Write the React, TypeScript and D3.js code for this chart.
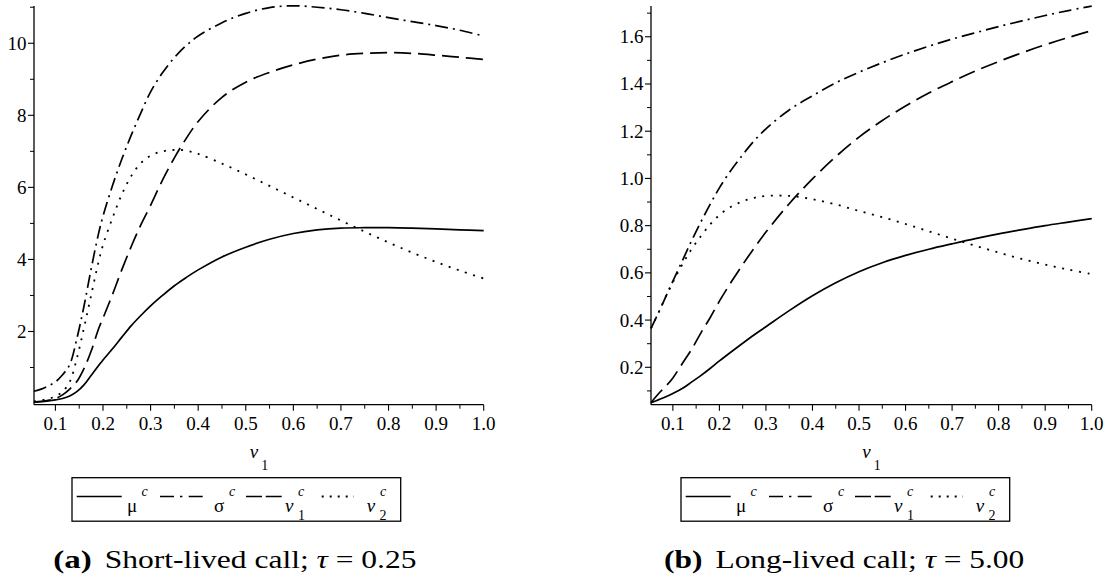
import React from 'react';
import * as d3 from 'd3';

// ---------- data: panel (a) short-lived call, tau = 0.25 ----------
const xA = [0.055, 0.07, 0.085, 0.1, 0.115, 0.13, 0.145, 0.16, 0.175, 0.19, 0.2, 0.22, 0.24, 0.26, 0.28, 0.3, 0.325, 0.35, 0.375, 0.4, 0.45, 0.5, 0.55, 0.6, 0.65, 0.7, 0.75, 0.8, 0.85, 0.9, 0.95, 1.0];
const muA = [0.04, 0.05, 0.07, 0.1, 0.14, 0.21, 0.33, 0.52, 0.78, 1.04, 1.21, 1.52, 1.85, 2.17, 2.45, 2.71, 3.0, 3.27, 3.5, 3.71, 4.07, 4.34, 4.56, 4.72, 4.82, 4.87, 4.88, 4.88, 4.87, 4.85, 4.82, 4.8];
const sigmaA = [0.34, 0.4, 0.49, 0.6, 0.8, 1.08, 1.8, 2.7, 3.73, 4.68, 5.2, 6.05, 6.8, 7.47, 8.08, 8.65, 9.18, 9.6, 9.94, 10.2, 10.57, 10.83, 10.99, 11.04, 11.0, 10.93, 10.83, 10.71, 10.6, 10.49, 10.36, 10.2];
const v1A = [0.04, 0.06, 0.09, 0.14, 0.24, 0.4, 0.61, 0.97, 1.45, 2.05, 2.37, 3.03, 3.73, 4.38, 4.97, 5.5, 6.2, 6.82, 7.36, 7.83, 8.5, 8.92, 9.19, 9.4, 9.56, 9.67, 9.72, 9.74, 9.72, 9.67, 9.61, 9.55];
const v2A = [0.06, 0.09, 0.13, 0.2, 0.33, 0.6, 1.25, 2.1, 3.0, 3.9, 4.4, 5.15, 5.82, 6.33, 6.68, 6.88, 7.0, 7.04, 7.02, 6.93, 6.66, 6.36, 6.04, 5.72, 5.4, 5.08, 4.77, 4.47, 4.19, 3.93, 3.69, 3.47];

// ---------- data: panel (b) long-lived call, tau = 5.00 ----------
const xB = [0.053, 0.07, 0.085, 0.1, 0.12, 0.14, 0.16, 0.18, 0.2, 0.225, 0.25, 0.275, 0.3, 0.35, 0.4, 0.45, 0.5, 0.55, 0.6, 0.65, 0.7, 0.75, 0.8, 0.85, 0.9, 0.95, 1.0];
const muB = [0.05, 0.063, 0.075, 0.089, 0.11, 0.137, 0.165, 0.195, 0.227, 0.265, 0.302, 0.338, 0.372, 0.44, 0.503, 0.558, 0.605, 0.643, 0.674, 0.7, 0.723, 0.745, 0.765, 0.783, 0.8, 0.815, 0.83];
const sigmaB = [0.365, 0.435, 0.5, 0.565, 0.65, 0.735, 0.815, 0.89, 0.96, 1.035, 1.1, 1.16, 1.21, 1.29, 1.35, 1.405, 1.45, 1.49, 1.527, 1.56, 1.59, 1.617, 1.643, 1.667, 1.69, 1.711, 1.73];
const v1B = [0.05, 0.09, 0.12, 0.155, 0.215, 0.275, 0.345, 0.41, 0.48, 0.56, 0.635, 0.706, 0.773, 0.893, 0.998, 1.092, 1.175, 1.245, 1.307, 1.362, 1.41, 1.455, 1.495, 1.532, 1.566, 1.597, 1.626];
const v2B = [0.365, 0.435, 0.5, 0.56, 0.635, 0.7, 0.755, 0.805, 0.845, 0.88, 0.903, 0.918, 0.926, 0.926, 0.912, 0.89, 0.862, 0.836, 0.807, 0.776, 0.745, 0.715, 0.686, 0.659, 0.635, 0.614, 0.595];

// ---------- ticks ----------
const xMajor = [0.1, 0.2, 0.3, 0.4, 0.5, 0.6, 0.7, 0.8, 0.9, 1.0];
const xMinor = [0.15, 0.25, 0.35, 0.45, 0.55, 0.65, 0.75, 0.85, 0.95];
const yMajorA = [2, 4, 6, 8, 10];
const yMinorA = [1, 3, 5, 7, 9, 11];
const yMajorB = [0.2, 0.4, 0.6, 0.8, 1.0, 1.2, 1.4, 1.6];
const yMinorB = [0.1, 0.3, 0.5, 0.7, 0.9, 1.1, 1.3, 1.5, 1.7];

const FONT = '"Liberation Serif"';
const T = (extra: React.CSSProperties = {}): React.CSSProperties => ({ fontFamily: FONT, ...extra });

type PanelProps = {
  xs: number[];
  mu: number[];
  sigma: number[];
  v1: number[];
  v2: number[];
  xDomain: [number, number];
  yDomain: [number, number];
  left: number;
  right: number;
  top: number;
  bottom: number;
  yMajor: number[];
  yMinor: number[];
  yFmt: (v: number) => string;
  legendX: number;
  captionX: number;
  captionTag: string;
  captionText: string;
  captionValue: string;
  captionLen: number;
};

function Panel(p: PanelProps) {
  const x = d3.scaleLinear().domain(p.xDomain).range([p.left, p.right]);
  const y = d3.scaleLinear().domain(p.yDomain).range([p.bottom, p.top]);
  const mk = (vals: number[]) =>
    d3
      .line<number>()
      .x((_, i) => x(p.xs[i]))
      .y((d) => y(d))
      .curve(d3.curveCatmullRom.alpha(0.5))(vals) || '';
  const axisMid = (p.left + p.right) / 2;
  const lx = p.legendX;
  const ly = 496.5;
  return (
    <g>
      {/* curves */}
      <path d={mk(p.mu)} fill="none" stroke="#000" strokeWidth={1.7} />
      <path d={mk(p.sigma)} fill="none" stroke="#000" strokeWidth={1.7} strokeDasharray="13,5,2,5" />
      <path d={mk(p.v1)} fill="none" stroke="#000" strokeWidth={1.7} strokeDasharray="17,7" />
      <path d={mk(p.v2)} fill="none" stroke="#000" strokeWidth={1.8} strokeDasharray="2,6.6" />

      {/* axes */}
      <line x1={p.left} x2={p.left} y1={p.top} y2={p.bottom} stroke="#000" strokeWidth={1.3} />
      <line x1={p.left} x2={p.right} y1={p.bottom} y2={p.bottom} stroke="#000" strokeWidth={1.3} />
      {xMajor.map((t) => (
        <g key={'xm' + t}>
          <line x1={x(t)} x2={x(t)} y1={p.bottom} y2={p.bottom + 6} stroke="#000" strokeWidth={1.1} />
          <text x={x(t)} y={430} textAnchor="middle" style={T({ fontSize: 19 })} fill="#000">
            {t.toFixed(1)}
          </text>
        </g>
      ))}
      {xMinor.map((t) => (
        <line key={'xn' + t} x1={x(t)} x2={x(t)} y1={p.bottom} y2={p.bottom + 4} stroke="#000" strokeWidth={1} />
      ))}
      {p.yMajor.map((t) => (
        <g key={'ym' + t}>
          <line x1={p.left - 6} x2={p.left} y1={y(t)} y2={y(t)} stroke="#000" strokeWidth={1.1} />
          <text x={p.left - 7.5} y={y(t)} dy="0.34em" textAnchor="end" style={T({ fontSize: 19 })} fill="#000">
            {p.yFmt(t)}
          </text>
        </g>
      ))}
      {p.yMinor.map((t) => (
        <line key={'yn' + t} x1={p.left - 4} x2={p.left} y1={y(t)} y2={y(t)} stroke="#000" strokeWidth={1} />
      ))}

      {/* axis label v_1 */}
      <text x={axisMid - 9} y={458} style={T({ fontSize: 19, fontStyle: 'italic' })} fill="#000">
        v
      </text>
      <text x={axisMid + 2.5} y={470} style={T({ fontSize: 14 })} fill="#000">
        1
      </text>

      {/* legend */}
      <rect x={lx} y={477.7} width={328.7} height={43.5} fill="none" stroke="#000" strokeWidth={1.3} />
      <line x1={lx + 4.7} x2={lx + 49.7} y1={ly} y2={ly} stroke="#000" strokeWidth={1.7} />
      <text x={lx + 55} y={512} style={T({ fontSize: 19 })} fill="#000">μ</text>
      <text x={lx + 69.5} y={496} style={T({ fontSize: 14, fontStyle: 'italic' })} fill="#000">c</text>

      <line x1={lx + 88} x2={lx + 130.7} y1={ly} y2={ly} stroke="#000" strokeWidth={1.7} strokeDasharray="14,6,2.4,6.3,14" />
      <text x={lx + 142} y={512} style={T({ fontSize: 19 })} fill="#000">σ</text>
      <text x={lx + 157} y={496} style={T({ fontSize: 14, fontStyle: 'italic' })} fill="#000">c</text>

      <line x1={lx + 174} x2={lx + 209.7} y1={ly} y2={ly} stroke="#000" strokeWidth={1.7} strokeDasharray="16,3.7,16" />
      <text x={lx + 213} y={512} style={T({ fontSize: 19, fontStyle: 'italic' })} fill="#000">v</text>
      <text x={lx + 226} y={496} style={T({ fontSize: 14, fontStyle: 'italic' })} fill="#000">c</text>
      <text x={lx + 226} y={519.5} style={T({ fontSize: 14 })} fill="#000">1</text>

      <line x1={lx + 249.7} x2={lx + 282} y1={ly} y2={ly} stroke="#000" strokeWidth={1.8} strokeDasharray="2,6" />
      <text x={lx + 294.7} y={512} style={T({ fontSize: 19, fontStyle: 'italic' })} fill="#000">v</text>
      <text x={lx + 308} y={496} style={T({ fontSize: 14, fontStyle: 'italic' })} fill="#000">c</text>
      <text x={lx + 307.5} y={519.5} style={T({ fontSize: 14 })} fill="#000">2</text>

      {/* caption */}
      <text x={p.captionX} y={567.5} style={T({ fontSize: 26, fontWeight: 'bold' })} fill="#000" textLength={38.5} lengthAdjust="spacingAndGlyphs">
        {p.captionTag}
      </text>
      <text x={p.captionX + 51.5} y={567.5} style={T({ fontSize: 26 })} fill="#000" textLength={p.captionLen} lengthAdjust="spacingAndGlyphs">
        {p.captionText}
        <tspan style={{ fontStyle: 'italic' }}>τ</tspan>
        {' = ' + p.captionValue}
      </text>
    </g>
  );
}

export default function App() {
  return (
    <svg
      width={1113}
      height={581}
      viewBox="0 0 1113 581"
      style={{ position: 'absolute', left: 0, top: 0, background: '#fff' }}
    >
      <rect x={0} y={0} width={1113} height={581} fill="#fff" />
      <Panel
        xs={xA}
        mu={muA}
        sigma={sigmaA}
        v1={v1A}
        v2={v2A}
        xDomain={[0.055, 1.0]}
        yDomain={[-0.032, 11.034]}
        left={34}
        right={483.7}
        top={6}
        bottom={404.7}
        yMajor={yMajorA}
        yMinor={yMinorA}
        yFmt={(v) => String(v)}
        legendX={72}
        captionX={53.3}
        captionTag="(a)"
        captionText="Short-lived call; "
        captionValue="0.25"
        captionLen={311.7}
      />
      <Panel
        xs={xB}
        mu={muB}
        sigma={sigmaB}
        v1={v1B}
        v2={v2B}
        xDomain={[0.053, 1.0]}
        yDomain={[0.0416, 1.7303]}
        left={651}
        right={1091.7}
        top={6}
        bottom={404.7}
        yMajor={yMajorB}
        yMinor={yMinorB}
        yFmt={(v) => v.toFixed(1)}
        legendX={681}
        captionX={664}
        captionTag="(b)"
        captionText="Long-lived call; "
        captionValue="5.00"
        captionLen={308.7}
      />
    </svg>
  );
}
